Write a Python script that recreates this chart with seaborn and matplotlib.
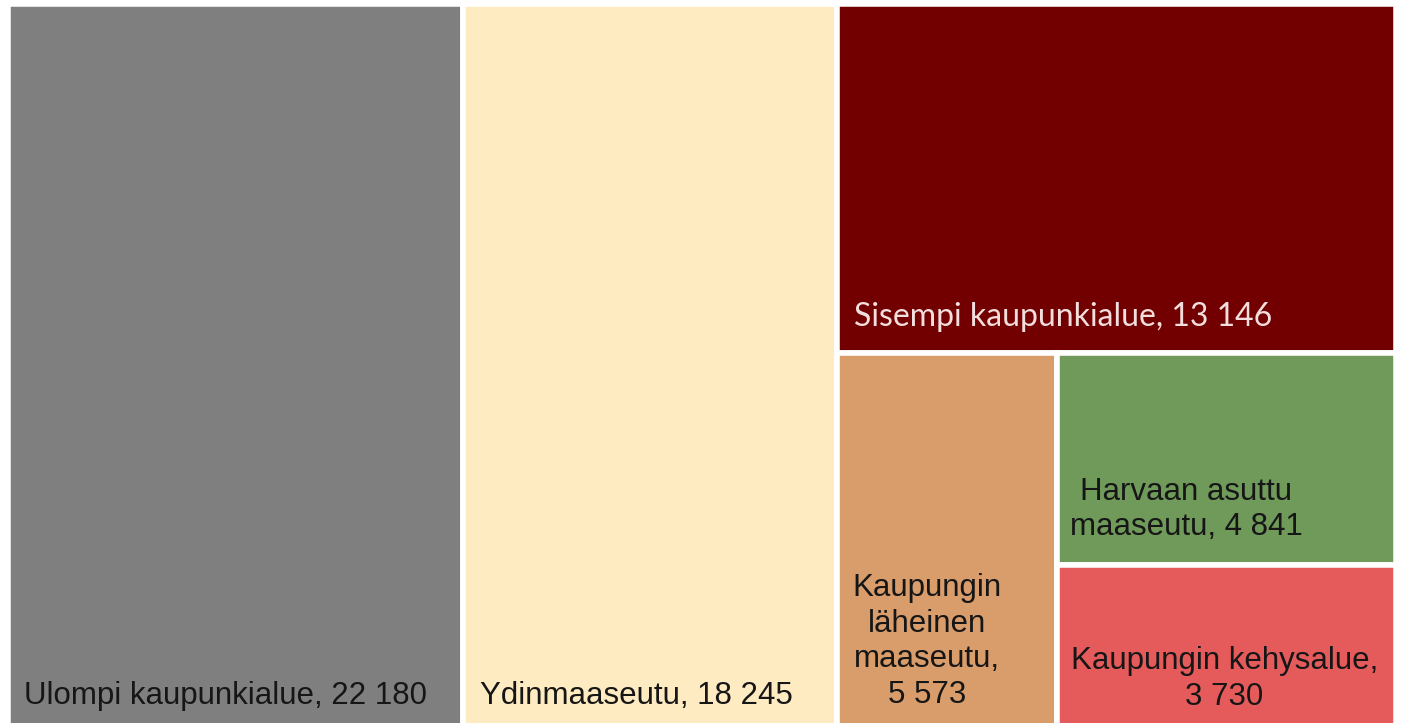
import matplotlib
matplotlib.use("Agg")
import matplotlib.pyplot as plt
import seaborn as sns

# data
names = ["Ulompi kaupunkialue", "Ydinmaaseutu", "Sisempi kaupunkialue",
         "Kaupungin läheinen maaseutu", "Harvaan asuttu maaseutu",
         "Kaupungin kehysalue"]
values = [22180, 18245, 13146, 5573, 4841, 3730]
labels = ["Ulompi kaupunkialue, 22 180",
          "Ydinmaaseutu, 18 245",
          "Sisempi kaupunkialue, 13 146",
          "Kaupungin\nläheinen\nmaaseutu,\n5 573",
          "Harvaan asuttu\nmaaseutu, 4 841",
          "Kaupungin kehysalue,\n3 730"]
colors = ["#7f7f7f", "#ffebc1", "#720000", "#d99c6b", "#6f9a5a", "#e55a5a"]
text_colors = ["#161616", "#161616", "#f3dede", "#161616", "#161616", "#161616"]


def worst(row, side):
    s = sum(row)
    return max(max(side * side * r / (s * s), s * s / (side * side * r)) for r in row)


def layout_row(row, x, y, w, h):
    # lays a row along the shorter side, returns rects and the leftover space
    s = sum(row)
    out = []
    if w >= h:  # column on the left
        cw = s / h
        yy = y
        for r in row:
            out.append((x, yy, cw, r / cw))
            yy += r / cw
        return out, (x + cw, y, w - cw, h)
    rh = s / w
    xx = x
    for r in row:
        out.append((xx, y, r / rh, rh))
        xx += r / rh
    return out, (x, y + rh, w, h - rh)


def squarify(vals, x, y, w, h):
    tot = sum(vals)
    areas = [v * w * h / tot for v in vals]
    rects = []
    row = []
    i = 0
    while i < len(areas):
        side = min(w, h)
        a = areas[i]
        if not row or worst(row + [a], side) <= worst(row, side):
            row.append(a)
            i += 1
        else:
            r, (x, y, w, h) = layout_row(row, x, y, w, h)
            rects += r
            row = []
    r, _ = layout_row(row, x, y, w, h)
    rects += r
    return rects


W, H = 1382 + 5.5, 719 + 5.5
rects = squarify(values, 0, 0, W, H)

sns.set_theme(style="white")
plt.rcParams["font.family"] = ["Liberation Sans", "DejaVu Sans"]

fig = plt.figure(figsize=(14.01, 7.23), dpi=100)
ax = fig.add_axes([(11 - 2.75) / 1401, 1 - (7 - 2.75 + H) / 723, W / 1401, H / 723])

for (x, y, w, h), c in zip(rects, colors):
    ax.bar(x, h, width=w, bottom=y, align="edge", color=c,
           edgecolor="white", linewidth=4)

# label placement: (anchor, dx, baseline offset from rect bottom)
place = [("left", 16, 25), ("left", 17, 25), ("left", 17, 27),
         ("center", -20, 26), ("center", -40, 30), ("center", -2, 24)]
fams = ["Liberation Sans", "Liberation Sans", "Lato",
        "Liberation Sans", "Liberation Sans", "Liberation Sans"]
sizes = [22.5, 22.5, 23, 22.5, 22.5, 22.5]
for (x, y, w, h), lab, tc, (ha, dx, dy), fam, fs in zip(rects, labels, text_colors, place, fams, sizes):
    tx = x + dx if ha == "left" else x + w / 2 + dx
    ax.text(tx, y + h - dy, lab, ha=ha, va="baseline", color=tc,
            fontsize=fs, family=[fam, "DejaVu Sans"], linespacing=1.24,
            multialignment="center")

ax.set_xlim(0, W)
ax.set_ylim(H, 0)
ax.axis("off")

fig.savefig("out.png", dpi=100, facecolor="white")
